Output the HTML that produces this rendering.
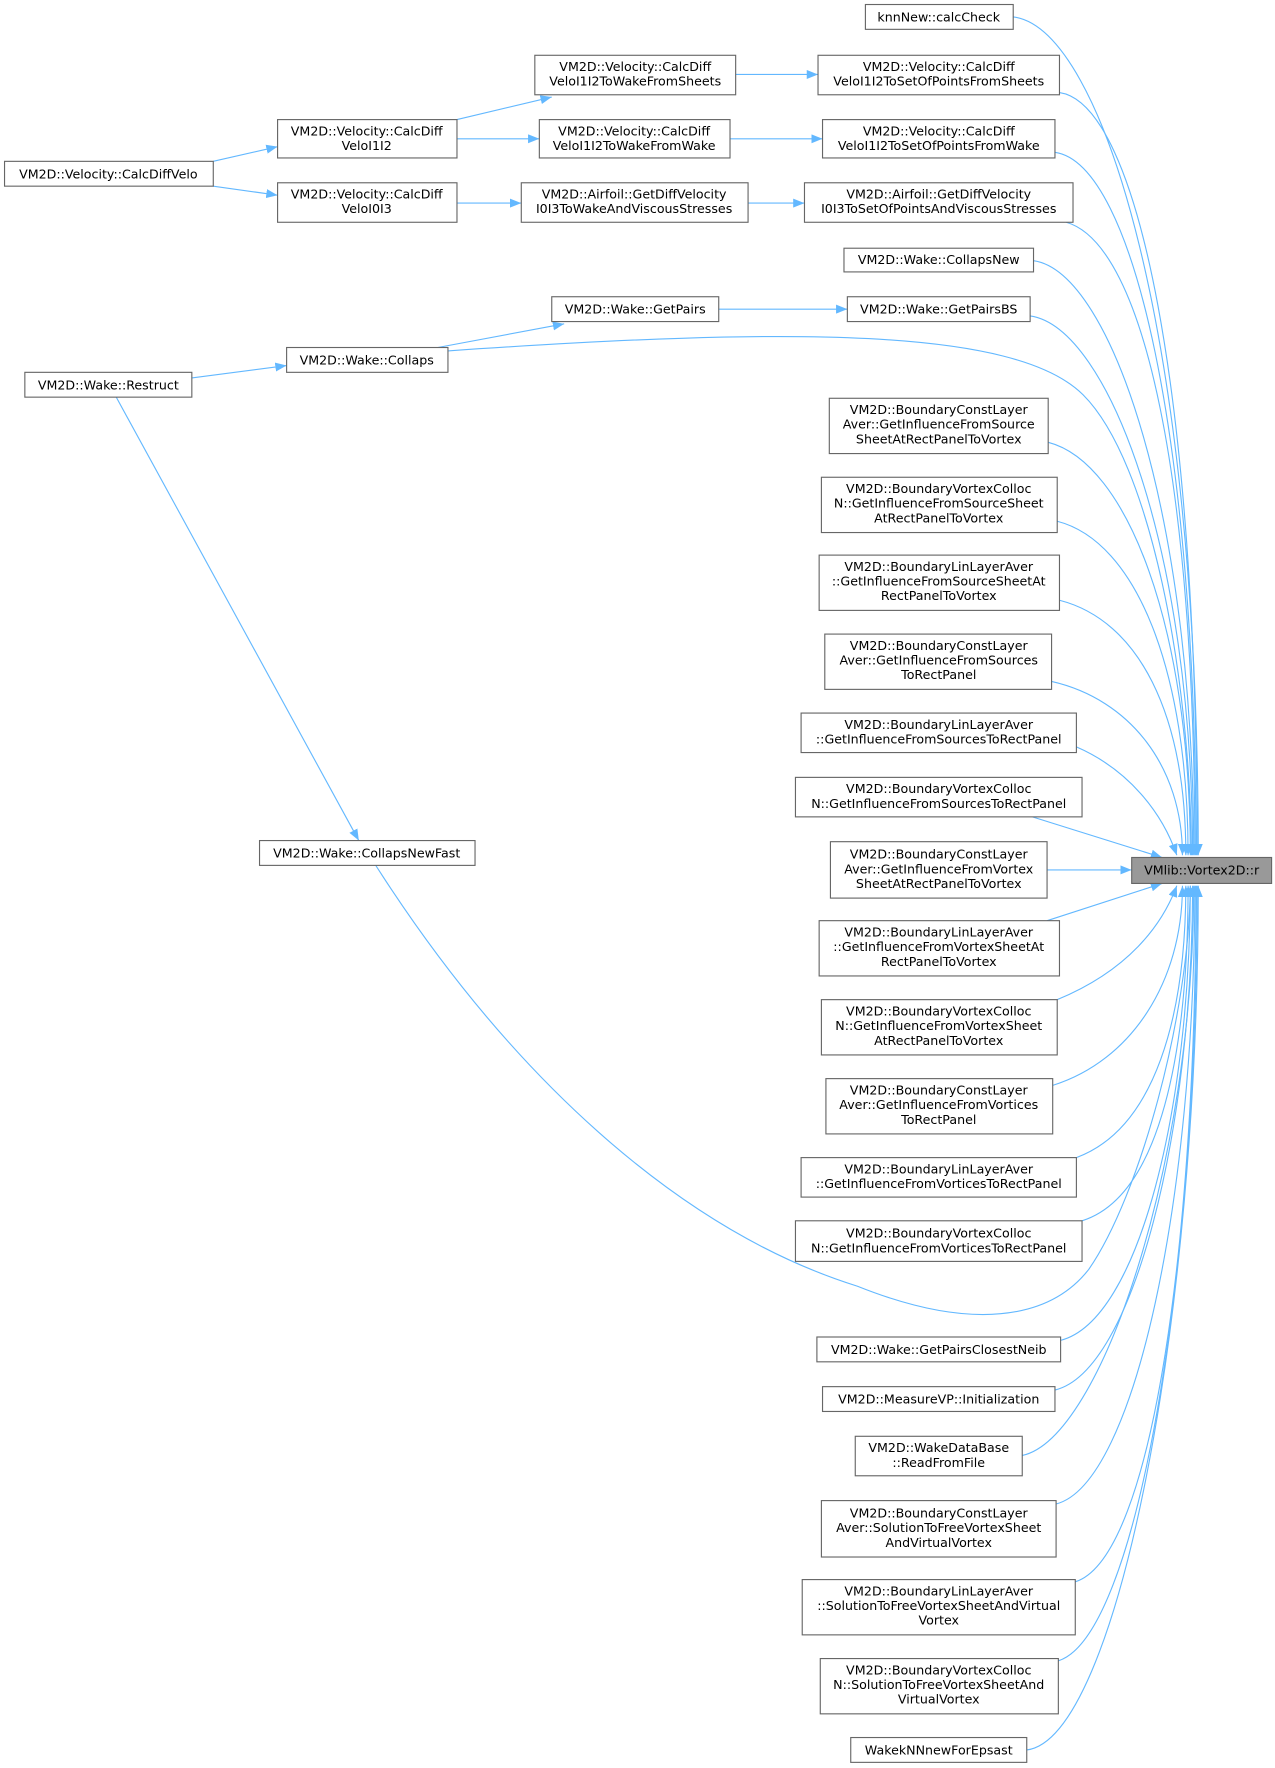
<!DOCTYPE html>
<html><head><meta charset="utf-8"><style>html,body{margin:0;padding:0;background:#fff}svg{display:block}text{font-family:"DejaVu Sans","Liberation Sans",sans-serif;font-size:11.2px;fill:#000}</style></head><body>
<svg width="1275" height="1768" viewBox="0 0 1130 1567" xmlns="http://www.w3.org/2000/svg">
<defs><marker id="a" markerWidth="10" markerHeight="8" refX="10" refY="4" orient="auto" markerUnits="userSpaceOnUse"><path d="M0,0 L10,4 L0,8 Z" fill="#63b8ff"/></marker></defs>
<g fill="none" stroke="#63b8ff" stroke-width="1" marker-end="url(#a)">
<path d="M189,143 L246,130"/>
<path d="M189,165 L246,173"/>
<path d="M405,106 L489,86"/>
<path d="M405,123 L478,123"/>
<path d="M405,180 L462,180"/>
<path d="M652,66 L725,66"/>
<path d="M647,123 L729,123"/>
<path d="M663,180 L713,180"/>
<path d="M637,274 L751,274"/>
<path d="M388,308 L500,287"/>
<path d="M170,335 L254,324"/>
<path d="M103,352 L318,745"/>
<path d="M898,15 C978,25 1062,300 1062,758"/>
<path d="M939,82 C1009,92 1061,350 1061,758"/>
<path d="M935,135 C1005,145 1060,390 1060,758"/>
<path d="M945,197 C1015,217 1059,430 1059,758"/>
<path d="M916,231 C986,241 1058,460 1058,758"/>
<path d="M913,280 C983,290 1057,490 1057,758"/>
<path d="M397,311 C700,290 900,290 960,350 C1020,410 1055,600 1056,758"/>
<path d="M929,392 C999,410 1055,556 1055,758"/>
<path d="M937,462 C1007,480 1053,594 1053,758"/>
<path d="M939,532 C1009,550 1051,632 1051,758"/>
<path d="M932,604 C1002,620 1048,680 1048,758"/>
<path d="M954,662 C1000,682 1030,720 1043,758"/>
<path d="M915,724 L1030,760"/>
<path d="M928,771 L1003,771"/>
<path d="M928,816 L1030,783"/>
<path d="M937,886 C1000,860 1030,820 1043,785"/>
<path d="M933,962 C1003,940 1048,870 1048,785"/>
<path d="M954,1026 C1024,1000 1051,900 1051,785"/>
<path d="M959,1082 C1029,1060 1053,930 1053,785"/>
<path d="M333,767 C450,950 600,1090 760,1140 C860,1180 930,1170 965,1125 C1010,1060 1054,900 1055,785"/>
<path d="M940,1188 C1010,1170 1055,980 1055,785"/>
<path d="M935,1232 C1005,1215 1057,1000 1057,785"/>
<path d="M906,1290 C976,1275 1058,1030 1058,785"/>
<path d="M936,1333 C1006,1315 1059,1060 1059,785"/>
<path d="M953,1402 C1023,1380 1060,1090 1060,785"/>
<path d="M938,1472 C1008,1450 1061,1130 1061,785"/>
<path d="M910,1551 C990,1541 1062,1170 1062,785"/>
</g>
<g fill="#fff" stroke="#666" stroke-width="1">
<rect x="1003" y="760" width="124" height="23" fill="#999"/>
<rect x="4" y="143" width="185" height="22"/>
<rect x="22" y="330" width="148" height="22"/>
<rect x="246" y="106" width="159" height="34"/>
<rect x="246" y="162" width="159" height="35"/>
<rect x="254" y="308" width="143" height="22"/>
<rect x="230" y="745" width="191" height="22"/>
<rect x="474" y="49" width="178" height="35"/>
<rect x="478" y="106" width="169" height="34"/>
<rect x="462" y="162" width="201" height="35"/>
<rect x="489" y="263" width="148" height="22"/>
<rect x="767" y="4" width="131" height="22"/>
<rect x="725" y="49" width="214" height="35"/>
<rect x="729" y="106" width="206" height="34"/>
<rect x="713" y="162" width="238" height="35"/>
<rect x="748" y="220" width="168" height="21"/>
<rect x="751" y="263" width="162" height="22"/>
<rect x="735" y="353" width="194" height="49"/>
<rect x="728" y="423" width="209" height="49"/>
<rect x="726" y="492" width="213" height="49"/>
<rect x="731" y="562" width="201" height="49"/>
<rect x="710" y="632" width="244" height="35"/>
<rect x="705" y="689" width="254" height="35"/>
<rect x="736" y="746" width="192" height="50"/>
<rect x="726" y="816" width="213" height="49"/>
<rect x="728" y="886" width="209" height="49"/>
<rect x="732" y="956" width="201" height="49"/>
<rect x="710" y="1026" width="244" height="35"/>
<rect x="705" y="1082" width="254" height="36"/>
<rect x="724" y="1185" width="216" height="22"/>
<rect x="729" y="1229" width="206" height="22"/>
<rect x="758" y="1273" width="148" height="35"/>
<rect x="728" y="1330" width="208" height="50"/>
<rect x="711" y="1400" width="242" height="49"/>
<rect x="727" y="1470" width="211" height="49"/>
<rect x="754" y="1540" width="156" height="22"/>
</g>
<g text-anchor="middle">
<text x="1065" y="775">VMlib::Vortex2D::r</text>
<text x="96" y="158">VM2D::Velocity::CalcDiffVelo</text>
<text x="96" y="345">VM2D::Wake::Restruct</text>
<text x="325" y="120">VM2D::Velocity::CalcDiff</text><text x="325" y="133">VeloI1I2</text>
<text x="325" y="176">VM2D::Velocity::CalcDiff</text><text x="325" y="189">VeloI0I3</text>
<text x="325" y="323">VM2D::Wake::Collaps</text>
<text x="325" y="760">VM2D::Wake::CollapsNewFast</text>
<text x="563" y="63">VM2D::Velocity::CalcDiff</text><text x="563" y="76">VeloI1I2ToWakeFromSheets</text>
<text x="562" y="120">VM2D::Velocity::CalcDiff</text><text x="562" y="133">VeloI1I2ToWakeFromWake</text>
<text x="562" y="176">VM2D::Airfoil::GetDiffVelocity</text><text x="562" y="189">I0I3ToWakeAndViscousStresses</text>
<text x="563" y="278">VM2D::Wake::GetPairs</text>
<text x="832" y="19">knnNew::calcCheck</text>
<text x="832" y="63">VM2D::Velocity::CalcDiff</text><text x="832" y="76">VeloI1I2ToSetOfPointsFromSheets</text>
<text x="832" y="120">VM2D::Velocity::CalcDiff</text><text x="832" y="133">VeloI1I2ToSetOfPointsFromWake</text>
<text x="832" y="176">VM2D::Airfoil::GetDiffVelocity</text><text x="832" y="189">I0I3ToSetOfPointsAndViscousStresses</text>
<text x="832" y="234">VM2D::Wake::CollapsNew</text>
<text x="832" y="278">VM2D::Wake::GetPairsBS</text>
<text x="832" y="367">VM2D::BoundaryConstLayer</text><text x="832" y="380">Aver::GetInfluenceFromSource</text><text x="832" y="393">SheetAtRectPanelToVortex</text>
<text x="832" y="437">VM2D::BoundaryVortexColloc</text><text x="832" y="450">N::GetInfluenceFromSourceSheet</text><text x="832" y="463">AtRectPanelToVortex</text>
<text x="832" y="506">VM2D::BoundaryLinLayerAver</text><text x="832" y="519">::GetInfluenceFromSourceSheetAt</text><text x="832" y="532">RectPanelToVortex</text>
<text x="832" y="576">VM2D::BoundaryConstLayer</text><text x="832" y="589">Aver::GetInfluenceFromSources</text><text x="832" y="602">ToRectPanel</text>
<text x="832" y="646">VM2D::BoundaryLinLayerAver</text><text x="832" y="659">::GetInfluenceFromSourcesToRectPanel</text>
<text x="832" y="703">VM2D::BoundaryVortexColloc</text><text x="832" y="716">N::GetInfluenceFromSourcesToRectPanel</text>
<text x="832" y="761">VM2D::BoundaryConstLayer</text><text x="832" y="774">Aver::GetInfluenceFromVortex</text><text x="832" y="787">SheetAtRectPanelToVortex</text>
<text x="832" y="830">VM2D::BoundaryLinLayerAver</text><text x="832" y="843">::GetInfluenceFromVortexSheetAt</text><text x="832" y="856">RectPanelToVortex</text>
<text x="832" y="900">VM2D::BoundaryVortexColloc</text><text x="832" y="913">N::GetInfluenceFromVortexSheet</text><text x="832" y="926">AtRectPanelToVortex</text>
<text x="832" y="970">VM2D::BoundaryConstLayer</text><text x="832" y="983">Aver::GetInfluenceFromVortices</text><text x="832" y="996">ToRectPanel</text>
<text x="832" y="1040">VM2D::BoundaryLinLayerAver</text><text x="832" y="1053">::GetInfluenceFromVorticesToRectPanel</text>
<text x="832" y="1097">VM2D::BoundaryVortexColloc</text><text x="832" y="1110">N::GetInfluenceFromVorticesToRectPanel</text>
<text x="832" y="1200">VM2D::Wake::GetPairsClosestNeib</text>
<text x="832" y="1244">VM2D::MeasureVP::Initialization</text>
<text x="832" y="1287">VM2D::WakeDataBase</text><text x="832" y="1300">::ReadFromFile</text>
<text x="832" y="1345">VM2D::BoundaryConstLayer</text><text x="832" y="1358">Aver::SolutionToFreeVortexSheet</text><text x="832" y="1371">AndVirtualVortex</text>
<text x="832" y="1414">VM2D::BoundaryLinLayerAver</text><text x="832" y="1427">::SolutionToFreeVortexSheetAndVirtual</text><text x="832" y="1440">Vortex</text>
<text x="832" y="1484">VM2D::BoundaryVortexColloc</text><text x="832" y="1497">N::SolutionToFreeVortexSheetAnd</text><text x="832" y="1510">VirtualVortex</text>
<text x="832" y="1555">WakekNNnewForEpsast</text>
</g>
</svg>
</body></html>
